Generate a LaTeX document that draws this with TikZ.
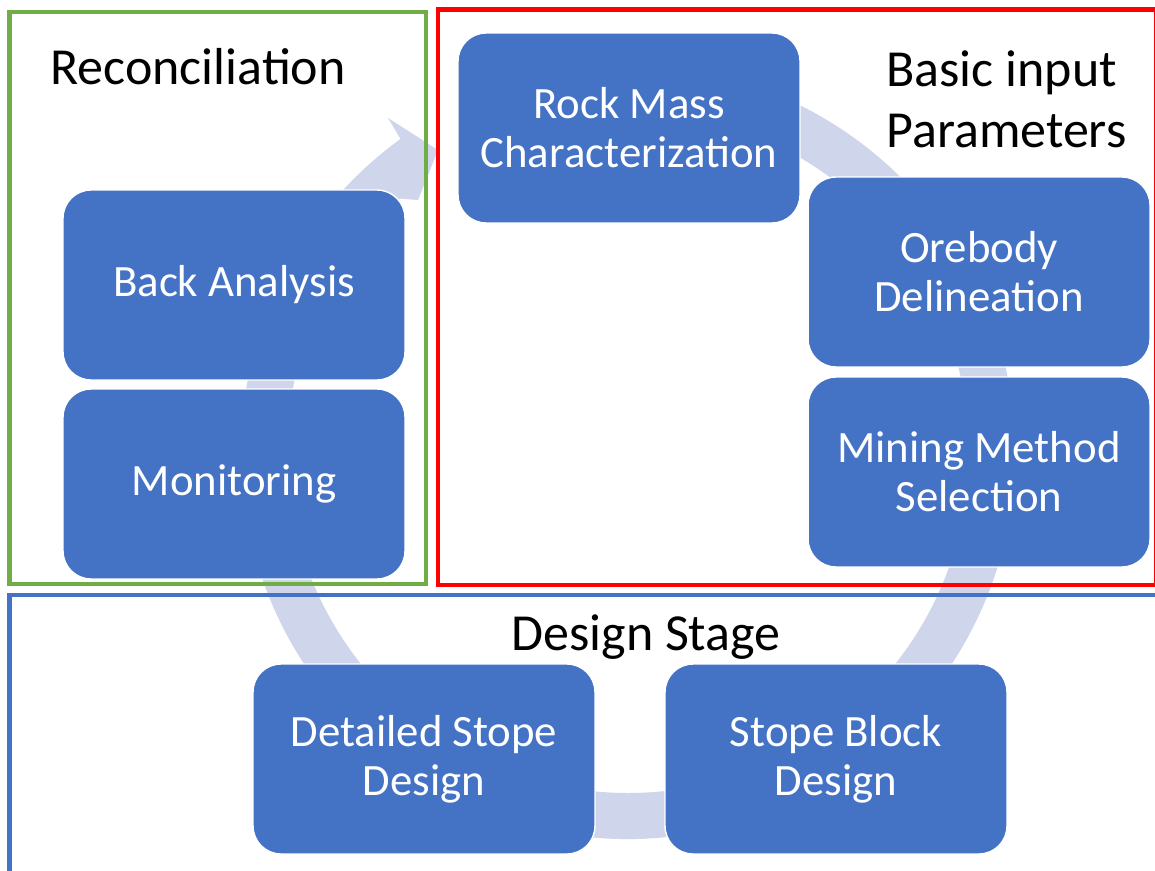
\documentclass[tikz,border=0pt]{standalone}
\usepackage{fontspec}
\setmainfont{Carlito}
\usepackage{tikz}
\usetikzlibrary{calc}

\definecolor{boxblue}{HTML}{4472C4}
\definecolor{ringlav}{HTML}{CFD5EA}
\definecolor{framegreen}{HTML}{70AD47}
\definecolor{framered}{HTML}{FF0000}

\begin{document}
\begin{tikzpicture}[
    x=0.02cm, y=0.02cm,
    stage/.style={rectangle, rounded corners=0.56cm, draw=white, line width=0.8pt, fill=boxblue, text=white, minimum width=6.84cm, minimum height=3.8cm, align=center, font=\fontsize{25.5pt}{27.8pt}\selectfont},
    title/.style={inner sep=0pt, text=black, align=left, font=\fontsize{29.6pt}{35pt}\selectfont},
    frame/.style={line width=2.8pt}
]
    \useasboundingbox[fill=white] (0,0) rectangle (1155,870);
    \clip (0,0) rectangle (1155,870);

    % Cycle arrow behind the stages
    \coordinate (C) at (628,418);
    \fill[ringlav] ($(C)+(100:387)$) arc[start angle=100, end angle=-234, radius=387]
        -- (388,752) -- (438,720) -- (418,670)
        -- ($(C)+(-228:341)$) arc[start angle=-228, end angle=100, radius=341] -- cycle;

    % Group frames
    \draw[frame, framegreen] (9.5,858) rectangle (426,286);
    \draw[frame, framered]   (438,860.5) rectangle (1156,285);
    \draw[frame, boxblue]    (9.5,275) rectangle (1157,-10);

    % Group titles
    \node[title, anchor=base west] (RECON) at (50,785) {Reconciliation};
    \node[title, anchor=north west] (BASIC) at (886,820) {Basic input\\Parameters};
    \node[title, anchor=base] (DESIGN) at (646,220) {Design Stage};

    % Stages of the cycle
    \node[stage] (ROCK)     at (629,742) {Rock Mass\\Characterization};
    \node[stage] (OREBODY)  at (979,598) {Orebody\\Delineation};
    \node[stage] (MINING)   at (979,398) {Mining Method\\Selection};
    \node[stage] (BLOCK)    at (836,111) {Stope Block\\Design};
    \node[stage] (DETAILED) at (424,111) {Detailed Stope\\Design};
    \node[stage] (MONITOR)  at (234,386) {Monitoring};
    \node[stage] (BACK)     at (234,585) {Back Analysis};
\end{tikzpicture}
\end{document}
